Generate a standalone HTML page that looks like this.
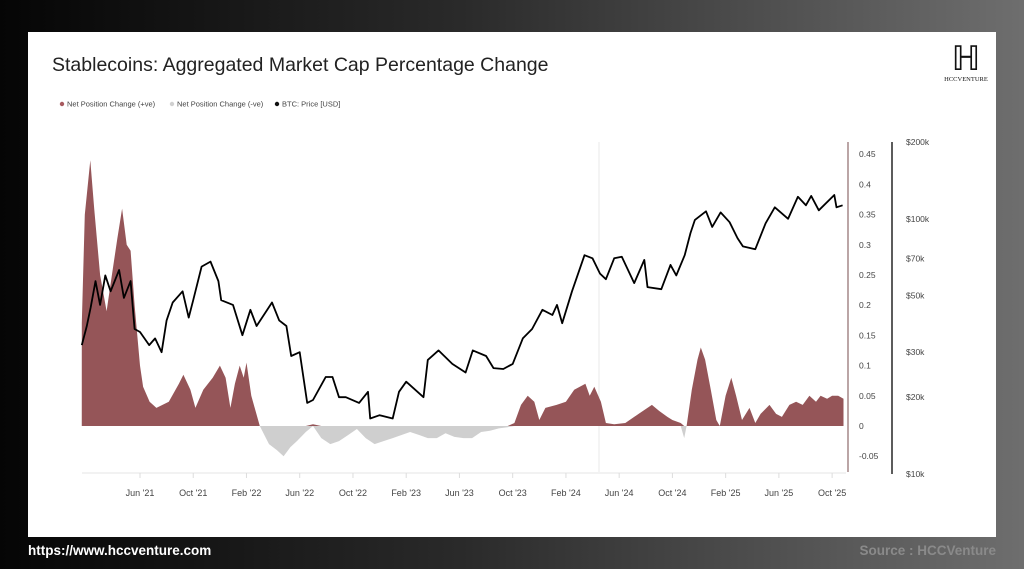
<!DOCTYPE html>
<html><head><meta charset="utf-8"><style>
html,body{margin:0;padding:0;width:1024px;height:569px;overflow:hidden;font-family:"Liberation Sans",sans-serif;}
body{background:linear-gradient(90deg,#050505 0%,#2a2a2a 45%,#6e6e6e 100%);position:relative;}
#card{position:absolute;left:28px;top:32px;width:968px;height:505px;background:#fff;}
</style></head><body>
<div id="card"></div>
<svg id="svg" width="1024" height="569" style="position:absolute;left:0;top:0">
<text x="52" y="71" font-size="19.5" fill="#222">Stablecoins: Aggregated Market Cap Percentage Change</text>
<g font-size="7.5" fill="#444">
<g><circle cx="62" cy="104" r="2.2" fill="#a85a5f"/><text x="67" y="106.5">Net Position Change (+ve)</text></g>
<g><circle cx="172" cy="104" r="2.2" fill="#d0d0d0"/><text x="177" y="106.5">Net Position Change (-ve)</text></g>
<g><circle cx="277" cy="104" r="2.2" fill="#111"/><text x="282" y="106.5">BTC: Price [USD]</text></g>
</g>
<g>
<text x="966" y="70" font-family="Liberation Serif,serif" font-size="34" text-anchor="middle" fill="#111">ℍ</text>
<text x="966" y="81" font-family="Liberation Serif,serif" font-size="6.5" text-anchor="middle" fill="#111">HCCVENTURE</text>
</g>
<g id="plot"></g>
<text x="28" y="555" font-size="13.5" font-weight="bold" fill="#fff">https://www.hccventure.com</text>
<text x="996" y="555" font-size="13.5" font-weight="bold" fill="#8a8a8a" text-anchor="end">Source : HCCVenture</text>
</svg>
<script>
const stableDates=["2021-01-20","2021-01-27","2021-02-09","2021-02-18","2021-03-01","2021-03-16","2021-03-28","2021-04-10","2021-04-21","2021-05-01","2021-05-10","2021-05-19","2021-06-01","2021-06-08","2021-06-23","2021-07-08","2021-08-06","2021-08-29","2021-09-09","2021-09-25","2021-10-06","2021-10-24","2021-11-15","2021-12-01","2021-12-14","2021-12-25","2022-01-05","2022-01-16","2022-01-25","2022-02-01","2022-02-12","2022-03-01","2022-03-22","2022-04-10","2022-04-25","2022-05-10","2022-05-25","2022-06-15","2022-07-01","2022-07-20","2022-08-10","2022-08-30","2022-09-20","2022-10-10","2022-10-30","2022-11-20","2022-12-10","2022-12-31","2023-01-20","2023-02-10","2023-03-01","2023-03-20","2023-04-10","2023-04-30","2023-05-20","2023-06-10","2023-06-30","2023-07-20","2023-08-10","2023-08-30","2023-09-20","2023-10-05","2023-10-20","2023-11-05","2023-11-20","2023-12-01","2023-12-15","2024-01-10","2024-02-01","2024-02-20","2024-03-15","2024-03-25","2024-04-05","2024-04-20","2024-05-01","2024-05-20","2024-06-15","2024-07-15","2024-08-15","2024-09-01","2024-09-20","2024-10-01","2024-10-20","2024-10-28","2024-11-03","2024-11-15","2024-11-28","2024-12-05","2024-12-15","2024-12-28","2025-01-10","2025-01-18","2025-02-01","2025-02-14","2025-02-25","2025-03-08","2025-03-25","2025-04-08","2025-04-20","2025-05-10","2025-05-25","2025-06-08","2025-06-25","2025-07-10","2025-07-25","2025-08-10","2025-08-25","2025-09-05","2025-09-20","2025-10-01","2025-10-15","2025-10-27"];
const stableValues=[0.17,0.35,0.44,0.36,0.25,0.19,0.25,0.31,0.36,0.30,0.29,0.20,0.10,0.065,0.04,0.03,0.04,0.07,0.085,0.06,0.03,0.06,0.08,0.10,0.08,0.03,0.07,0.10,0.08,0.105,0.05,0.0,-0.03,-0.04,-0.05,-0.035,-0.025,-0.01,0.003,-0.02,-0.03,-0.025,-0.015,-0.005,-0.02,-0.03,-0.025,-0.02,-0.015,-0.01,-0.015,-0.02,-0.02,-0.012,-0.018,-0.02,-0.02,-0.01,-0.008,-0.004,-0.002,0.005,0.035,0.05,0.04,0.01,0.03,0.035,0.04,0.06,0.07,0.05,0.065,0.04,0.005,0.003,0.005,0.02,0.035,0.025,0.015,0.01,0.005,-0.02,0.0,0.06,0.11,0.13,0.11,0.06,0.01,0.0,0.05,0.08,0.05,0.01,0.03,0.005,0.02,0.035,0.02,0.015,0.035,0.04,0.035,0.05,0.04,0.05,0.045,0.05,0.05,0.045];
const btcDates=["2021-01-20","2021-02-01","2021-02-10","2021-02-21","2021-03-01","2021-03-13","2021-03-25","2021-04-14","2021-04-25","2021-05-10","2021-05-19","2021-06-01","2021-06-22","2021-07-05","2021-07-20","2021-08-01","2021-08-15","2021-09-07","2021-09-21","2021-10-01","2021-10-20","2021-11-10","2021-11-28","2021-12-04","2021-12-31","2022-01-22","2022-02-10","2022-02-24","2022-03-29","2022-04-15","2022-05-01","2022-05-12","2022-06-01","2022-06-18","2022-07-01","2022-07-30","2022-08-15","2022-08-30","2022-09-15","2022-10-15","2022-11-05","2022-11-10","2022-12-01","2022-12-31","2023-01-15","2023-02-01","2023-03-10","2023-03-20","2023-04-14","2023-05-15","2023-06-15","2023-07-01","2023-08-01","2023-08-18","2023-09-10","2023-10-01","2023-10-24","2023-11-15","2023-12-08","2023-12-31","2024-01-11","2024-01-23","2024-02-15","2024-03-13","2024-04-01","2024-04-18","2024-05-01","2024-05-20","2024-06-07","2024-07-05","2024-07-28","2024-08-05","2024-09-06","2024-09-27","2024-10-10","2024-10-29","2024-11-12","2024-11-22","2024-12-17","2024-12-31","2025-01-20","2025-02-10","2025-02-28","2025-03-10","2025-04-08","2025-05-01","2025-05-22","2025-06-22","2025-07-14","2025-08-02","2025-08-14","2025-09-01","2025-10-06","2025-10-11","2025-10-25"];
const btcValues=[32000,38000,45000,57000,46000,60000,52000,63000,49000,57000,37000,36000,32000,34000,30000,40000,47000,52000,41000,48000,65000,68000,57000,48000,46000,35000,44000,38000,47000,40000,38000,29000,30000,19000,19500,24000,24000,20000,20000,19000,21000,16500,17000,16500,21000,23000,20000,28000,30500,27000,25000,30500,29000,26000,25800,27000,34000,37000,44000,42000,46000,39000,52000,72000,70000,61000,58000,70000,71000,56000,69000,54000,53000,66000,60000,72000,88000,99000,107000,93000,106000,97000,84000,78000,76000,96000,111000,100000,122000,113000,123000,108000,124000,111000,113000];
const leftTicks=[0.45,0.4,0.35,0.3,0.25,0.2,0.15,0.1,0.05,0,-0.05];
const leftTickLabels=["0.45","0.4","0.35","0.3","0.25","0.2","0.15","0.1","0.05","0","-0.05"];
const priceTicks=[200000,100000,70000,50000,30000,20000,10000];
const priceTickLabels=["$200k","$100k","$70k","$50k","$30k","$20k","$10k"];
const xTickDates=["2021-06-01","2021-10-01","2022-02-01","2022-06-01","2022-10-01","2023-02-01","2023-06-01","2023-10-01","2024-02-01","2024-06-01","2024-10-01","2025-02-01","2025-06-01","2025-10-01"];
const xTickLabels=["Jun '21","Oct '21","Feb '22","Jun '22","Oct '22","Feb '23","Jun '23","Oct '23","Feb '24","Jun '24","Oct '24","Feb '25","Jun '25","Oct '25"];

const NS="http://www.w3.org/2000/svg";
const plot=document.getElementById('plot');
function mk(t,a){const e=document.createElementNS(NS,t);for(const k in a)e.setAttribute(k,a[k]);plot.appendChild(e);return e;}
function months(d){const p=d.split('-').map(Number);return (p[0]-2021)*12+(p[1]-1)+(p[2]-1)/30.4;}
function xS(d){return 140+(months(d)-5)*13.31;}
function yL(v){return 426-v*604;}
function yP(p){return 474-Math.log10(p/10000)/Math.log10(20)*332;}

// axis baseline
let e=mk('line',{x1:82,y1:473,x2:846,y2:473,stroke:'#e4e4e4','stroke-width':1});


e=mk('line',{x1:599,y1:142,x2:599,y2:472,stroke:'#e8e8e8','stroke-width':1});



// area
const y0=yL(0);
let pos='M'+xS(stableDates[0])+','+y0, neg=pos;
stableDates.forEach((d,i)=>{const v=stableValues[i];pos+=' L'+xS(d).toFixed(1)+','+yL(Math.max(v,0)).toFixed(1);neg+=' L'+xS(d).toFixed(1)+','+yL(Math.min(v,0)).toFixed(1);});
const xe=xS(stableDates[stableDates.length-1]).toFixed(1);
pos+=' L'+xe+','+y0+' Z';neg+=' L'+xe+','+y0+' Z';
e=mk('path',{d:neg,fill:'#cfcfcf'});


e=mk('path',{d:pos,fill:'#955558'});



// btc line
let lp='';btcDates.forEach((d,i)=>{lp+=(i?' L':'M')+xS(d).toFixed(1)+','+yP(btcValues[i]).toFixed(1);});
e=mk('path',{d:lp,fill:'none',stroke:'#000','stroke-width':1.8,'stroke-linejoin':'round'});



// left axis
e=mk('line',{x1:848,y1:142,x2:848,y2:472,stroke:'#8e6a6c','stroke-width':1.2});


leftTicks.forEach((v,i)=>{const t=mk('text',{x:859,y:yL(v)+3,'font-size':8.5,fill:'#444'});t.textContent=leftTickLabels[i];

});
e=mk('line',{x1:892,y1:142,x2:892,y2:474,stroke:'#333','stroke-width':1.6});


priceTicks.forEach((v,i)=>{const t=mk('text',{x:906,y:yP(v)+3,'font-size':8.5,fill:'#444'});t.textContent=priceTickLabels[i];

});
xTickDates.forEach((d,i)=>{const x=xS(d);const l=mk('line',{x1:x,y1:473,x2:x,y2:478,stroke:'#ddd'});


const t=mk('text',{x:x,y:496,'font-size':9,fill:'#444','text-anchor':'middle'});t.textContent=xTickLabels[i];

});
</script>
</body></html>
